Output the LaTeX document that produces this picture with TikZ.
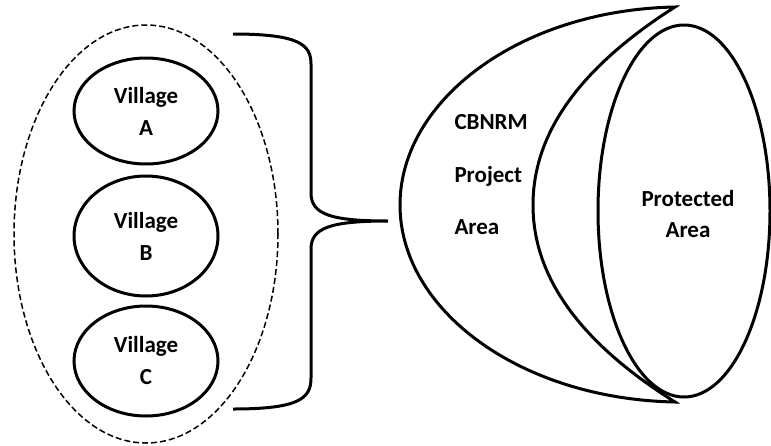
\documentclass[tikz,border=0pt]{standalone}
\usepackage{fontspec}
\setmainfont{Carlito}
\usetikzlibrary{shapes.geometric}

\begin{document}
\begin{tikzpicture}[x=0.5pt, y=-0.5pt, line width=1.5pt,
    village/.style={ellipse, draw, inner sep=0pt, minimum width=72pt, align=center,
      font=\bfseries\fontsize{11.5}{16}\selectfont},
    lbl/.style={inner sep=0pt, font=\bfseries\fontsize{11.5}{14}\selectfont}]
  \useasboundingbox (0,0) rectangle (771,445);

  % villages
  \node[ellipse, draw, dash pattern=on 3pt off 1.5pt, line width=0.75pt,
        minimum width=132pt, minimum height=209pt] (group) at (146,234) {};
  \node[village, minimum height=53pt] (vA) at (146,111) {Village\\A};
  \node[village, minimum height=60pt] (vB) at (146,236) {Village\\B};
  \node[village, minimum height=55pt] (vC) at (146,361) {Village\\C};

  % brace
  \coordinate (bt) at (233,34);
  \coordinate (bb) at (233,409);
  \coordinate (tip) at (388,221);
  \draw (bt) .. controls (300,34) and (311,45) .. (311,64) -- (311,193)
        .. controls (311,214) and (330,221) .. (tip)
        .. controls (330,221) and (311,228) .. (311,249) -- (311,378)
        .. controls (311,398) and (300,409) .. (bb);

  % project area
  \coordinate (ct) at (675,7);
  \coordinate (cb) at (675,402);
  \draw (ct) .. controls (520,10) and (400,100) .. (400,205)
        .. controls (400,310) and (520,399) .. (cb)
        .. controls (560,330) and (533,260) .. (533,205)
        .. controls (533,150) and (560,80) .. (ct) -- cycle;
  \node[ellipse, draw, inner sep=0pt, minimum width=86pt, minimum height=186pt] (prot) at (684,211) {};

  \node[lbl, anchor=base west] (cbnrm) at (453,129) {CBNRM};
  \node[lbl, anchor=base west] (proj) at (453,182) {Project};
  \node[lbl, anchor=base west] (area) at (453,234) {Area};
  \node[lbl, anchor=base] (prot1) at (688,206) {Protected};
  \node[lbl, anchor=base] (prot2) at (688,237) {Area};
\end{tikzpicture}
\end{document}
